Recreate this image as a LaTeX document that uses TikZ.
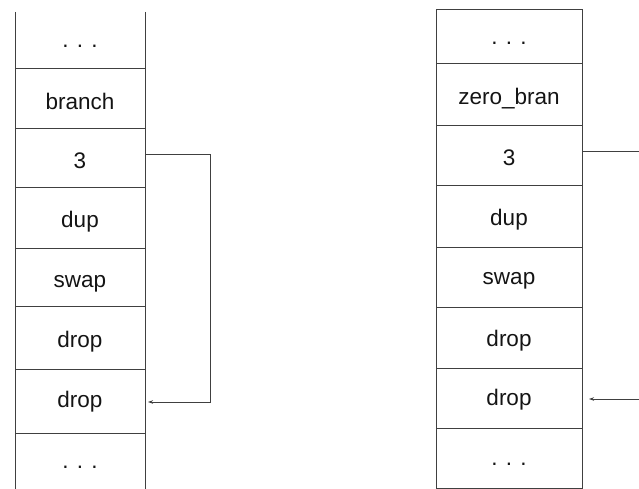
\documentclass[tikz,border=0pt]{standalone}
\usepackage{fontspec}
\setmainfont{Liberation Sans}
\usetikzlibrary{arrows.meta}
\begin{document}
\begin{tikzpicture}[x=1pt,y=-1pt,
  cell/.style={inner sep=0pt,anchor=base,font=\fontsize{22.5}{24}\selectfont,text=black!92},
  stackline/.style={line width=0.9pt,draw=black!75},
  link/.style={line width=0.9pt,draw=black!75},
  tip/.style={-{Stealth[length=5pt,width=3.5pt]}}]
\useasboundingbox (0,0) rectangle (639,489);
% left stack
\draw[stackline] (15,12) -- (15,489) (145,12) -- (145,489);
\foreach \y in {68,128,187,248,306,369,433} \draw[stackline] (15,\y) -- (145,\y);
\node[cell] (l1) at (80,48) {. . .};
\node[cell] (l2) at (80,110) {branch};
\node[cell] (l3) at (80,168) {3};
\node[cell] (l4) at (80,227) {dup};
\node[cell] (l5) at (80,287) {swap};
\node[cell] (l6) at (80,347) {drop};
\node[cell] (l7) at (80,407) {drop};
\node[cell] (l8) at (80,468) {. . .};
\coordinate (la) at (145,154);
\coordinate (lb) at (148,402);
\draw[link,tip] (la) -- (210,154) -- (210,402) -- (lb);
% right stack
\draw[stackline] (436,9) rectangle (582,488);
\foreach \y in {63,125,185,247,307,368,428} \draw[stackline] (436,\y) -- (582,\y);
\node[cell] (r1) at (509,45) {. . .};
\node[cell] (r2) at (509,105) {zero\_bran};
\node[cell] (r3) at (509,165) {3};
\node[cell] (r4) at (509,225) {dup};
\node[cell] (r5) at (509,284) {swap};
\node[cell] (r6) at (509,346) {drop};
\node[cell] (r7) at (509,405) {drop};
\node[cell] (r8) at (509,465) {. . .};
\coordinate (ra) at (582,151);
\coordinate (rb) at (639,151);
\coordinate (rc) at (639,399);
\coordinate (rd) at (589,399);
\draw[link] (ra) -- (rb);
\draw[link,tip] (rc) -- (rd);
\end{tikzpicture}
\end{document}
